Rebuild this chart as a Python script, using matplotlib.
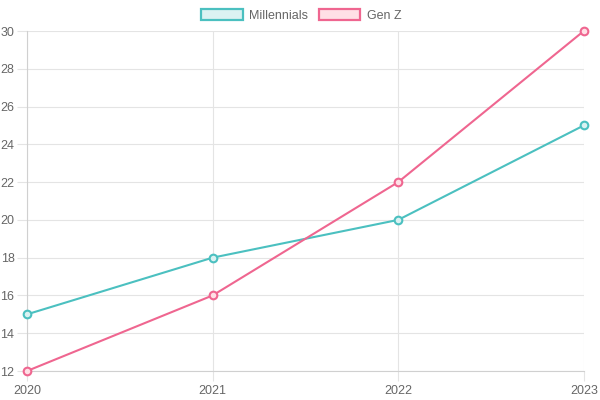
import matplotlib
matplotlib.use("Agg")
import matplotlib.pyplot as plt
from matplotlib.patches import Patch

plt.rcParams["font.family"] = ["Liberation Sans", "DejaVu Sans"]

years = ["2020", "2021", "2022", "2023"]
millennials = [15, 18, 20, 25]
gen_z = [12, 16, 22, 30]

TEAL = "#4bc0c0"
PINK = "#ef6690"
GRID = "#e4e4e4"
TXT = "#666666"

fig = plt.figure(figsize=(6, 4), dpi=100)
ax = fig.add_axes([0.045, 0.0725, 0.928, 0.85])

x = range(len(years))
for vals, col, fill in [(millennials, TEAL, "#dbf2f2"), (gen_z, PINK, "#ffe0e6")]:
    ax.plot(x, vals, color=col, lw=1.5, marker="o", ms=5.5,
            mfc=fill, mec=col, mew=1.5, zorder=3, clip_on=False)

ax.set_xlim(0, 3)
ax.set_ylim(12, 30)
ax.set_xticks(list(x))
ax.set_xticklabels(years)
ax.set_yticks(range(12, 31, 2))
ax.grid(True, color=GRID, lw=0.8)
for s in ax.spines.values():
    s.set_visible(False)
ax.spines["left"].set_visible(True)
ax.spines["bottom"].set_visible(True)
ax.spines["left"].set_color("#d0d0d0")
ax.spines["bottom"].set_color("#d0d0d0")
ax.tick_params(colors=GRID, labelcolor=TXT, labelsize=9, length=7, width=0.8)
ax.tick_params(axis="x", pad=3)
ax.tick_params(axis="y", pad=2)

handles = [Patch(facecolor="#dbf2f2", edgecolor=TEAL, lw=1.6, label="Millennials"),
           Patch(facecolor="#ffe0e6", edgecolor=PINK, lw=1.6, label="Gen Z")]
leg = fig.legend(handles=handles, loc="upper center", bbox_to_anchor=(0.502, 1.005),
                 ncol=2, frameon=False, fontsize=9, handlelength=3.3, handleheight=1.0,
                 handletextpad=0.5, columnspacing=0.9)
for t in leg.get_texts():
    t.set_color(TXT)

fig.savefig("out.png", dpi=100)
